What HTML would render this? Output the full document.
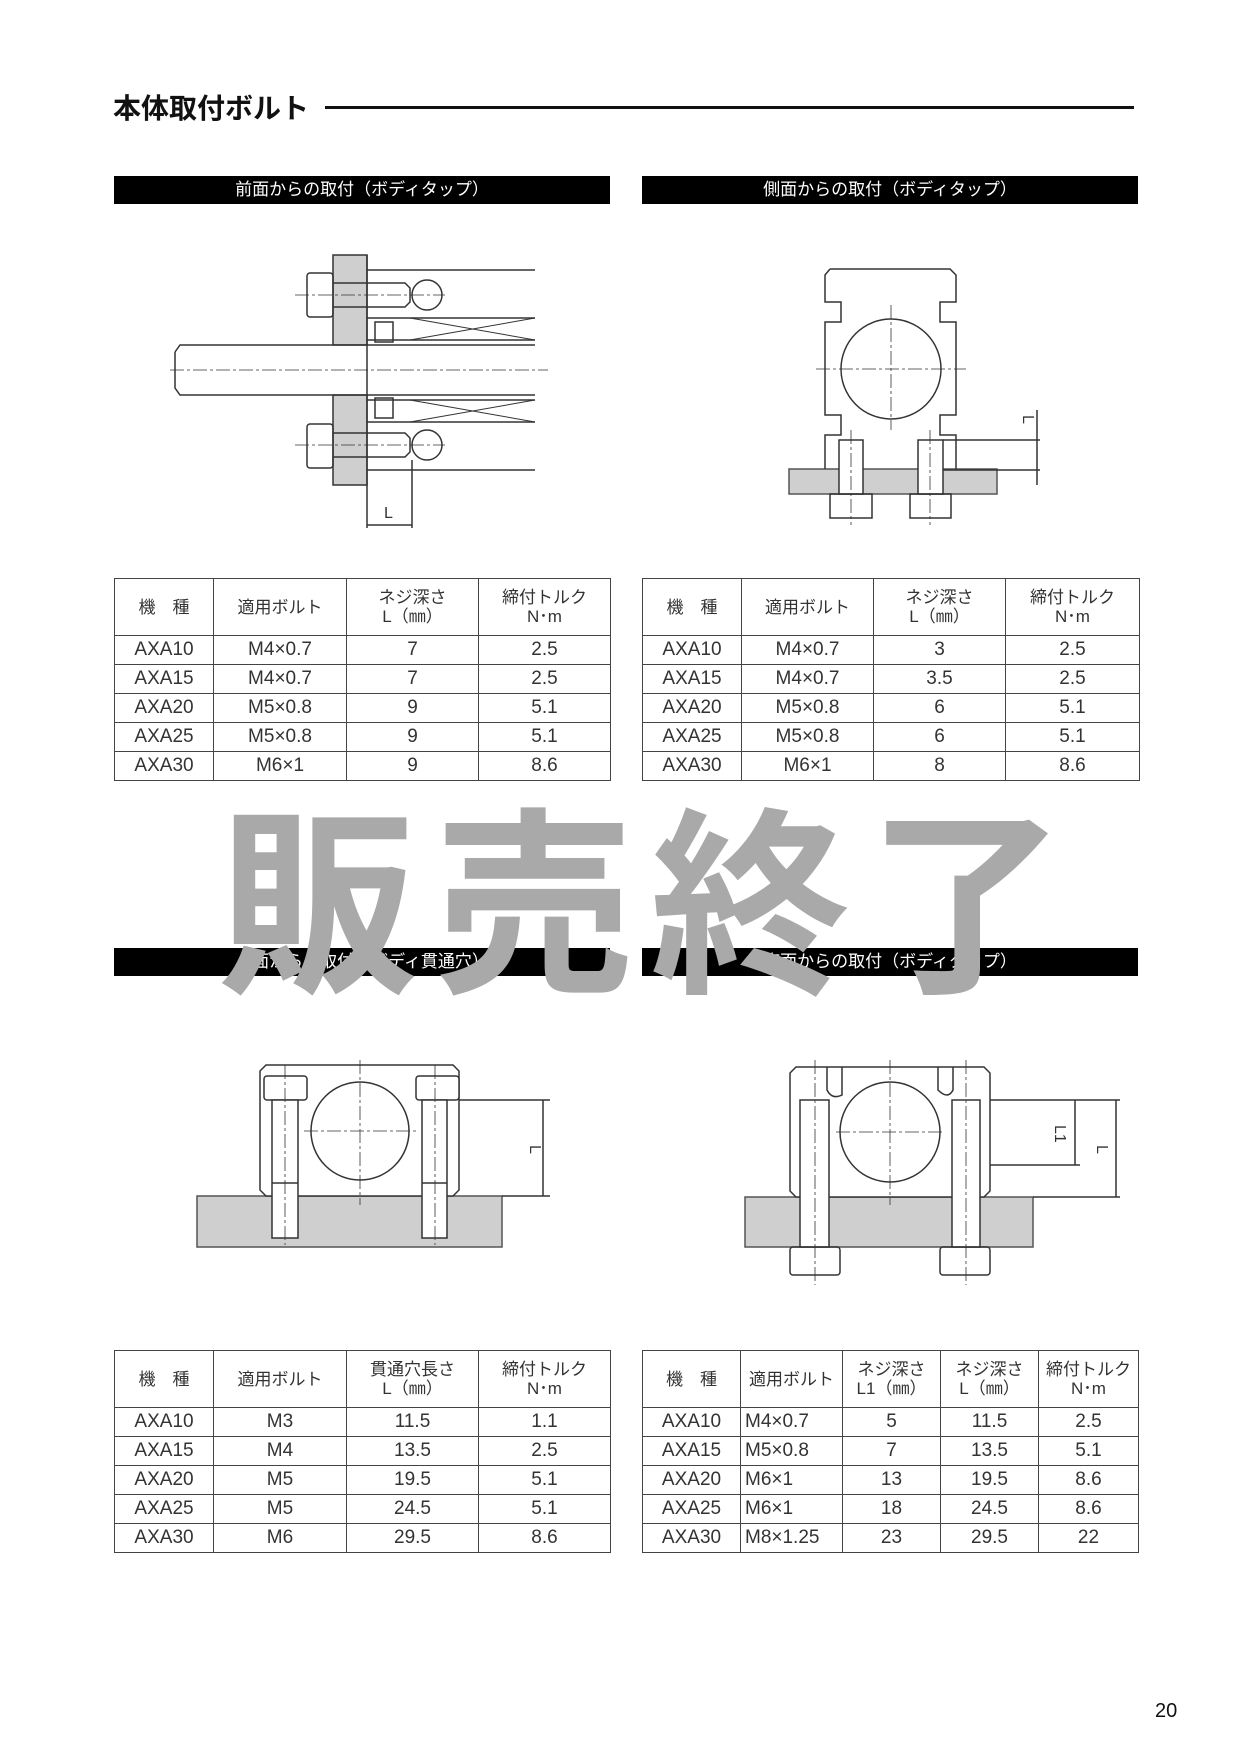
<!DOCTYPE html>
<html><head><meta charset="utf-8">
<style>
html,body{margin:0;padding:0;background:#fff;}
body{width:1240px;height:1753px;position:relative;overflow:hidden;font-family:"Liberation Sans","Noto Sans CJK JP",sans-serif;color:#222;}
.abs{position:absolute;}
.title{left:113px;top:92px;font-size:28px;line-height:34px;color:#111;font-weight:bold;}
.tline{left:325px;top:106px;width:809px;height:3px;background:#111;}
.bar{height:28px;background:#000;color:#fff;font-size:17px;line-height:28px;text-align:center;}
table{position:absolute;border-collapse:collapse;table-layout:fixed;}
td{border:1.5px solid #444;text-align:center;font-size:19px;color:#333;padding:0;height:28px;line-height:20px;}
tr.h td{height:56px;font-size:17px;line-height:19px;}
.wm{left:218px;top:770px;font-size:200px;line-height:240px;color:#a9a9a9;letter-spacing:16px;font-family:"Noto Sans CJK JP",sans-serif;font-weight:bold;z-index:5;}
.pg{left:1155px;top:1700px;font-size:20px;color:#111;}
</style></head><body>
<div class="abs title">本体取付ボルト</div>
<div class="abs tline"></div>

<div class="abs bar" style="left:114px;top:176px;width:496px;">前面からの取付（ボディタップ）</div>
<div class="abs bar" style="left:642px;top:176px;width:496px;">側面からの取付（ボディタップ）</div>
<div class="abs bar" style="left:114px;top:948px;width:496px;">上面からの取付（ボディ貫通穴）</div>
<div class="abs bar" style="left:642px;top:948px;width:496px;">底面からの取付（ボディタップ）</div>

<svg class="abs" style="left:0;top:0" width="1240" height="1753" viewBox="0 0 1240 1753">
<g fill="none" stroke="#333" stroke-width="1.5">
<rect x="333" y="255" width="34" height="90" fill="#cfcfcf"/>
<rect x="333" y="395" width="34" height="90" fill="#cfcfcf"/>
<path d="M175 352 L180 345 L535 345 M175 352 L175 388 L180 395 L535 395"/>
<path d="M367 270 L535 270 M367 470 L535 470 M367 318 L535 318 M367 422 L535 422 M367 340 L535 340 M367 400 L535 400"/>
<path d="M410 318 L535 340 M410 340 L535 318 M410 400 L535 422 M410 422 L535 400" stroke-width="1"/>
<path d="M367 255 L367 485"/>
<rect x="307" y="273" width="26" height="44" rx="3"/>
<rect x="307" y="424" width="26" height="44" rx="3"/>
<path d="M333 283 L405 283 L410 288 L410 302 L405 307 L333 307"/>
<path d="M333 433 L405 433 L410 438 L410 452 L405 457 L333 457"/>
<circle cx="427" cy="295" r="15"/><circle cx="427" cy="445" r="15"/>
<rect x="375" y="322" width="18" height="20"/><rect x="375" y="398" width="18" height="20"/>
<path d="M367 485 L367 528 M412 460 L412 528 M367 525 L412 525"/>
<path d="M295 295 L445 295 M295 445 L445 445 M170 370 L548 370" stroke-width="0.8" stroke-dasharray="14 3 3 3"/>
<rect x="789" y="469" width="208" height="25" fill="#cfcfcf" stroke="#555"/>
<path d="M830 269 L950 269 L956 275 L956 302 L940 302 L940 322 L956 322 L956 415 L940 415 L940 435 L956 435 L956 469 M830 269 L825 275 L825 302 L841 302 L841 322 L825 322 L825 415 L841 415 L841 435 L825 435 L825 469"/>
<circle cx="891" cy="369" r="50"/>
<rect x="839" y="440" width="24" height="54" fill="#fff"/><rect x="918" y="440" width="25" height="54" fill="#fff"/>
<rect x="830" y="494" width="42" height="24"/><rect x="910" y="494" width="41" height="24"/>
<path d="M943 440 L1040 440 M943 470 L1040 470 M1037 410 L1037 485"/>
<path d="M816 369 L966 369 M891 305 L891 430 M851 430 L851 525 M930 430 L930 525" stroke-width="0.8" stroke-dasharray="14 3 3 3"/>
<rect x="197" y="1196" width="305" height="51" fill="#cfcfcf" stroke="#555"/>
<path d="M266 1065 L453 1065 L459 1071 L459 1190 L453 1196 L266 1196 L260 1190 L260 1071 Z" fill="#fff"/>
<circle cx="360" cy="1131" r="49"/>
<rect x="264" y="1076" width="43" height="24" rx="3" fill="#fff"/><rect x="416" y="1076" width="43" height="24" rx="3" fill="#fff"/>
<rect x="272" y="1100" width="26" height="138" fill="#fff"/><rect x="422" y="1100" width="25" height="138" fill="#fff"/>
<path d="M272 1183 L298 1183 M422 1183 L447 1183"/>
<path d="M459 1100 L550 1100 M502 1196 L550 1196 M543 1100 L543 1196"/>
<path d="M304 1131 L416 1131 M360 1060 L360 1205 M285 1065 L285 1245 M435 1065 L435 1245" stroke-width="0.8" stroke-dasharray="14 3 3 3"/>
<rect x="745" y="1197" width="288" height="50" fill="#cfcfcf" stroke="#555"/>
<path d="M796 1067 L984 1067 L990 1073 L990 1191 L984 1197 L796 1197 L790 1191 L790 1073 Z" fill="#fff"/>
<circle cx="890" cy="1132" r="50"/>
<path d="M827 1067 L827 1090 Q832 1100 842 1095 L842 1067 M938 1067 L938 1090 Q948 1100 953 1090 L953 1067"/>
<rect x="800" y="1100" width="29" height="147" fill="#fff"/><rect x="952" y="1100" width="28" height="147" fill="#fff"/>
<rect x="790" y="1247" width="50" height="28" rx="3"/><rect x="940" y="1247" width="50" height="28" rx="3"/>
<path d="M990 1100 L1120 1100 M990 1165 L1080 1165 M1033 1197 L1120 1197 M1075 1100 L1075 1165 M1116 1100 L1116 1197"/>
<path d="M836 1132 L944 1132 M890 1060 L890 1205 M815 1060 L815 1285 M966 1060 L966 1285" stroke-width="0.8" stroke-dasharray="14 3 3 3"/>
</g>
<g font-family="Liberation Sans, sans-serif" font-size="16" fill="#333">
<text x="384" y="518">L</text>
<text x="1023" y="415" transform="rotate(90 1023 415)">L</text>
<text x="530" y="1145" transform="rotate(90 530 1145)">L</text>
<text x="1055" y="1125" transform="rotate(90 1055 1125)">L1</text>
<text x="1097" y="1145" transform="rotate(90 1097 1145)">L</text>
</g>
</svg>

<table style="left:114px;top:578px;width:496px;">
<colgroup><col style="width:99px"><col style="width:133px"><col style="width:132px"><col style="width:132px"></colgroup>
<tr class="h"><td>機　種</td><td>適用ボルト</td><td>ネジ深さ<br>L（㎜）</td><td>締付トルク<br>N･m</td></tr>
<tr><td>AXA10</td><td>M4×0.7</td><td>7</td><td>2.5</td></tr>
<tr><td>AXA15</td><td>M4×0.7</td><td>7</td><td>2.5</td></tr>
<tr><td>AXA20</td><td>M5×0.8</td><td>9</td><td>5.1</td></tr>
<tr><td>AXA25</td><td>M5×0.8</td><td>9</td><td>5.1</td></tr>
<tr><td>AXA30</td><td>M6×1</td><td>9</td><td>8.6</td></tr>
</table>

<table style="left:642px;top:578px;width:497px;">
<colgroup><col style="width:99px"><col style="width:132px"><col style="width:132px"><col style="width:134px"></colgroup>
<tr class="h"><td>機　種</td><td>適用ボルト</td><td>ネジ深さ<br>L（㎜）</td><td>締付トルク<br>N･m</td></tr>
<tr><td>AXA10</td><td>M4×0.7</td><td>3</td><td>2.5</td></tr>
<tr><td>AXA15</td><td>M4×0.7</td><td>3.5</td><td>2.5</td></tr>
<tr><td>AXA20</td><td>M5×0.8</td><td>6</td><td>5.1</td></tr>
<tr><td>AXA25</td><td>M5×0.8</td><td>6</td><td>5.1</td></tr>
<tr><td>AXA30</td><td>M6×1</td><td>8</td><td>8.6</td></tr>
</table>

<table style="left:114px;top:1350px;width:496px;">
<colgroup><col style="width:99px"><col style="width:133px"><col style="width:132px"><col style="width:132px"></colgroup>
<tr class="h"><td>機　種</td><td>適用ボルト</td><td>貫通穴長さ<br>L（㎜）</td><td>締付トルク<br>N･m</td></tr>
<tr><td>AXA10</td><td>M3</td><td>11.5</td><td>1.1</td></tr>
<tr><td>AXA15</td><td>M4</td><td>13.5</td><td>2.5</td></tr>
<tr><td>AXA20</td><td>M5</td><td>19.5</td><td>5.1</td></tr>
<tr><td>AXA25</td><td>M5</td><td>24.5</td><td>5.1</td></tr>
<tr><td>AXA30</td><td>M6</td><td>29.5</td><td>8.6</td></tr>
</table>

<table style="left:642px;top:1350px;width:496px;">
<colgroup><col style="width:98px"><col style="width:102px"><col style="width:98px"><col style="width:98px"><col style="width:100px"></colgroup>
<tr class="h"><td>機　種</td><td>適用ボルト</td><td>ネジ深さ<br>L1（㎜）</td><td>ネジ深さ<br>L（㎜）</td><td>締付トルク<br>N･m</td></tr>
<tr><td>AXA10</td><td style="text-align:left;padding-left:4px">M4×0.7</td><td>5</td><td>11.5</td><td>2.5</td></tr>
<tr><td>AXA15</td><td style="text-align:left;padding-left:4px">M5×0.8</td><td>7</td><td>13.5</td><td>5.1</td></tr>
<tr><td>AXA20</td><td style="text-align:left;padding-left:4px">M6×1</td><td>13</td><td>19.5</td><td>8.6</td></tr>
<tr><td>AXA25</td><td style="text-align:left;padding-left:4px">M6×1</td><td>18</td><td>24.5</td><td>8.6</td></tr>
<tr><td>AXA30</td><td style="text-align:left;padding-left:4px">M8×1.25</td><td>23</td><td>29.5</td><td>22</td></tr>
</table>

<div class="abs wm">販売終了</div>
<div class="abs pg">20</div>
</body></html>
